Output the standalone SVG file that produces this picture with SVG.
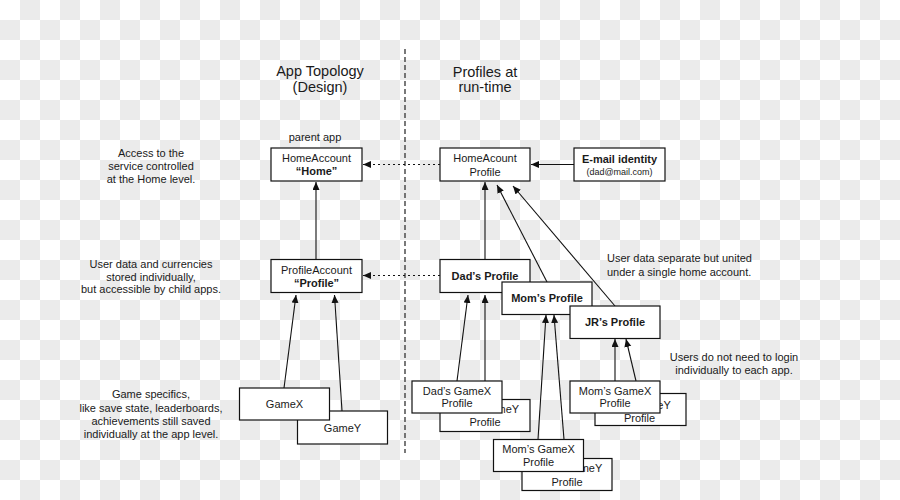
<svg xmlns="http://www.w3.org/2000/svg" width="900" height="500" viewBox="0 0 900 500">
<defs>
<pattern id="chk" width="40" height="40" patternUnits="userSpaceOnUse">
<rect width="40" height="40" fill="#ffffff"/>
<rect x="20" y="0" width="20" height="20" fill="#ebebeb"/>
<rect x="0" y="20" width="20" height="20" fill="#ebebeb"/>
</pattern>
<marker id="ah" markerUnits="userSpaceOnUse" markerWidth="9" markerHeight="8" refX="8" refY="3.5" orient="auto">
<path d="M0,0 L8,3.5 L0,7 z" fill="#111"/>
</marker>
<style>
text{font-family:"Liberation Sans",Arial,Helvetica,sans-serif;fill:#1a1a1a;font-size:11px;text-anchor:middle}
.title{font-size:14.5px}
.b{font-weight:bold}
.sm{font-size:9px}
.st{text-anchor:start}
.box{fill:#fff;stroke:#111;stroke-width:1.2}
.ln{stroke:#111;stroke-width:1.1;fill:none}
.dot{stroke:#111;stroke-width:1.1;fill:none;stroke-dasharray:2 3}
.dash{stroke:#333;stroke-width:1.3;fill:none;stroke-dasharray:5 3}
</style>
</defs>
<rect width="900" height="500" fill="url(#chk)"/>

<g id="divider"><line class="dash" x1="405" y1="49" x2="405" y2="453"/></g>

<g id="titles">
<text class="title" x="320" y="76">App Topology</text>
<text class="title" x="320" y="92">(Design)</text>
<text class="title" x="485" y="77">Profiles at</text>
<text class="title" x="485" y="92">run-time</text>
</g>

<g id="notes">
<text x="151" y="157">Access to the</text>
<text x="151" y="170">service controlled</text>
<text x="151" y="183">at the Home level.</text>
<text x="151" y="268">User data and currencies</text>
<text x="151" y="281">stored individually,</text>
<text x="151" y="293">but accessible by child apps.</text>
<text x="151" y="398">Game specifics,</text>
<text x="151" y="411.5">like save state, leaderboards,</text>
<text x="151" y="424.5">achievements still saved</text>
<text x="151" y="437.5">individually at the app level.</text>
<text class="st" x="607" y="262">User data separate but united</text>
<text class="st" x="607" y="276">under a single home account.</text>
<text x="734" y="361">Users do not need to login</text>
<text x="734" y="374">individually to each app.</text>
<text x="315" y="141">parent app</text>
</g>

<g id="connectors">
<line class="dot" x1="440" y1="164.5" x2="363" y2="164.5" marker-end="url(#ah)"/>
<line class="dot" x1="440" y1="275.5" x2="363" y2="275.5" marker-end="url(#ah)"/>
<line class="ln" x1="574" y1="164.5" x2="531" y2="164.5" marker-end="url(#ah)"/>
<line class="ln" x1="316" y1="259" x2="316" y2="182" marker-end="url(#ah)"/>
<line class="ln" x1="485" y1="259" x2="485" y2="182" marker-end="url(#ah)"/>
<line class="ln" x1="547" y1="282" x2="497" y2="185" marker-end="url(#ah)"/>
<line class="ln" x1="615" y1="306" x2="513" y2="186" marker-end="url(#ah)"/>
<line class="ln" x1="284" y1="388" x2="296" y2="295" marker-end="url(#ah)"/>
<line class="ln" x1="342" y1="411" x2="334.5" y2="295" marker-end="url(#ah)"/>
<line class="ln" x1="457" y1="381" x2="468" y2="295" marker-end="url(#ah)"/>
<line class="ln" x1="485" y1="381" x2="485" y2="295" marker-end="url(#ah)"/>
<line class="ln" x1="538" y1="439.5" x2="546" y2="315" marker-end="url(#ah)"/>
<line class="ln" x1="564" y1="439.5" x2="554" y2="315" marker-end="url(#ah)"/>
<line class="ln" x1="615" y1="381" x2="615" y2="339" marker-end="url(#ah)"/>
<line class="ln" x1="636" y1="381" x2="626" y2="339" marker-end="url(#ah)"/>
</g>

<g id="home">
<rect class="box" x="271" y="148" width="91" height="33"/>
<text x="316.5" y="162">HomeAccount</text>
<text class="b" x="316.5" y="175">“Home”</text>
</g>
<g id="profileaccount">
<rect class="box" x="271" y="259.5" width="91" height="33"/>
<text x="316.5" y="273.5">ProfileAccount</text>
<text class="b" x="316.5" y="286.5">“Profile”</text>
</g>
<g id="gamey">
<rect class="box" x="297.5" y="411" width="90" height="33"/>
<text x="342.5" y="431.5">GameY</text>
</g>
<g id="gamex">
<rect class="box" x="239.5" y="388" width="90" height="32"/>
<text x="284.5" y="408">GameX</text>
</g>

<g id="homeprofile">
<rect class="box" x="440" y="148" width="90" height="33"/>
<text x="485" y="162">HomeAcount</text>
<text x="485" y="175.5">Profile</text>
</g>
<g id="email">
<rect class="box" x="574" y="148" width="91" height="33"/>
<text class="b" x="619.5" y="163">E-mail identity</text>
<text class="sm" x="619.5" y="175">(dad@mail.com)</text>
</g>
<g id="dadprofile">
<rect class="box" x="440" y="259.5" width="90" height="33"/>
<text class="b" x="485" y="279.5">Dad’s Profile</text>
</g>
<g id="momprofile">
<rect class="box" x="502" y="282" width="90" height="32.5"/>
<text class="b" x="547" y="302">Mom’s Profile</text>
</g>
<g id="jrprofile">
<rect class="box" x="570" y="306" width="90" height="32.5"/>
<text class="b" x="615" y="325.5">JR’s Profile</text>
</g>

<g id="dadgamey">
<rect class="box" x="440" y="399.5" width="90" height="32"/>
<text x="485" y="413">Dad’s GameY</text>
<text x="485" y="425.5">Profile</text>
</g>
<g id="dadgamex">
<rect class="box" x="412" y="381" width="90" height="32"/>
<text x="457" y="394.5">Dad’s GameX</text>
<text x="457" y="406.5">Profile</text>
</g>

<g id="momgamey">
<rect class="box" x="522" y="458.5" width="90" height="32"/>
<text x="566" y="472">Mom’s GameY</text>
<text x="567" y="485.5">Profile</text>
</g>
<g id="momgamex">
<rect class="box" x="493.5" y="439.5" width="90" height="32"/>
<text x="538.5" y="453">Mom’s GameX</text>
<text x="538.5" y="465.5">Profile</text>
</g>

<g id="jrgamey">
<rect class="box" x="595" y="393.5" width="91" height="32"/>
<text x="640" y="408.5">JR’s GameY</text>
<text x="639.5" y="421.5">Profile</text>
</g>
<g id="jrgamex">
<rect class="box" x="570" y="381" width="90" height="32"/>
<text x="615" y="394.5">Mom’s GameX</text>
<text x="615" y="406.5">Profile</text>
</g>
</svg>
